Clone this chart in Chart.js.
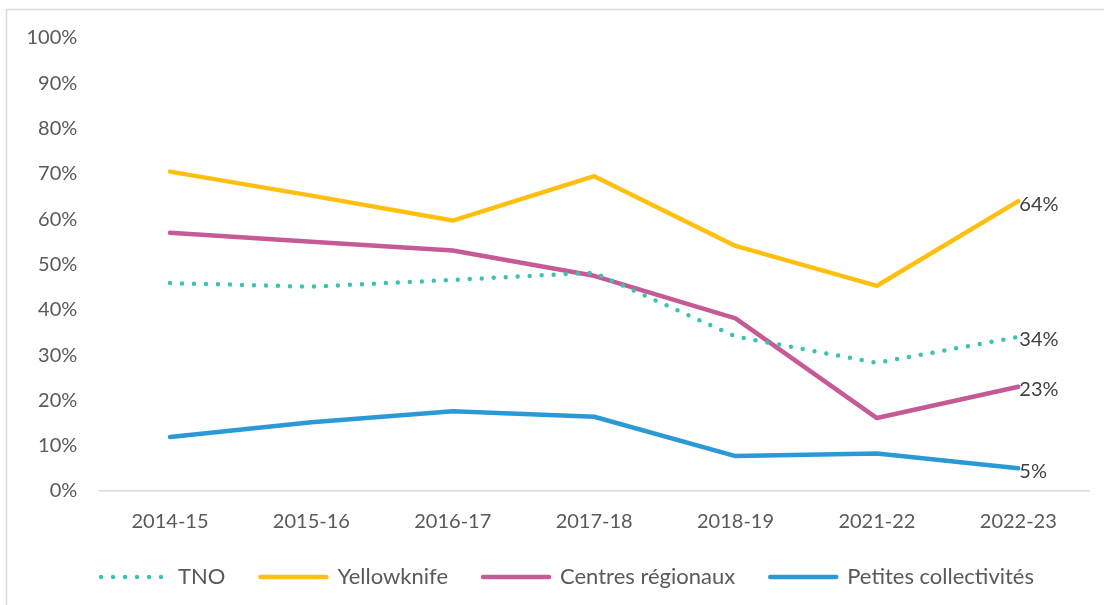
<!DOCTYPE html>
<html>
<head>
<meta charset="utf-8">
<script src="https://cdn.jsdelivr.net/npm/chart.js@4.4.0/dist/chart.umd.min.js"></script>
<style>
  html, body { margin: 0; padding: 0; background: #ffffff; }
  #wrap { position: relative; width: 1104px; height: 605px; }
</style>
</head>
<body>
<div id="wrap"><canvas id="c" width="1104" height="605"></canvas></div>
<script>
const categories = ['2014-15', '2015-16', '2016-17', '2017-18', '2018-19', '2021-22', '2022-23'];
const seriesNames = ['TNO', 'Yellowknife', 'Centres régionaux', 'Petites collectivités'];
const tno = [45.9, 45.1, 46.6, 48.2, 34.1, 28.3, 34];
const yellowknife = [70.5, 65.2, 59.7, 69.5, 54.1, 45.3, 64];
const centresRegionaux = [57.0, 55.0, 53.1, 47.5, 38.1, 16.1, 23];
const petitesCollectivites = [11.9, 15.2, 17.6, 16.4, 7.7, 8.3, 5];
const yTicks = [0, 10, 20, 30, 40, 50, 60, 70, 80, 90, 100];

const FONT = 'Lato, "Open Sans", sans-serif';
const TEXT = '#595959';

const frame = {
  id: 'frame',
  beforeDraw(chart) {
    const ctx = chart.ctx;
    ctx.save();
    ctx.fillStyle = '#ffffff';
    ctx.fillRect(0, 0, chart.width, chart.height);
    ctx.strokeStyle = '#d9d9d9';
    ctx.lineWidth = 1.5;
    ctx.beginPath();
    ctx.moveTo(6.5, chart.height);
    ctx.lineTo(6.5, 9.5);
    ctx.lineTo(chart.width, 9.5);
    ctx.stroke();
    ctx.restore();
  }
};

const legendShift = {
  id: 'legendShift',
  afterLayout(chart) {
    if (chart.legend) {
      chart.legend.left += 13;
      chart.legend.right += 13;
    }
  }
};

const lastLabels = {
  id: 'lastLabels',
  afterDatasetsDraw(chart) {
    const ctx = chart.ctx;
    ctx.save();
    ctx.font = '20px ' + FONT;
    ctx.fillStyle = '#404040';
    ctx.textAlign = 'left';
    ctx.textBaseline = 'middle';
    chart.data.datasets.forEach((ds, i) => {
      const meta = chart.getDatasetMeta(i);
      const n = ds.data.length - 1;
      const pt = meta.data[n];
      ctx.fillText(Math.round(ds.data[n]) + '%', pt.x + 1, pt.y + 3);
    });
    ctx.restore();
  }
};

new Chart(document.getElementById('c'), {
  type: 'line',
  data: {
    labels: categories,
    datasets: [
      { label: seriesNames[0], data: tno, borderColor: '#3fc1b1', backgroundColor: '#3fc1b1',
        borderWidth: 4.5, borderDash: [0, 12], borderCapStyle: 'round' },
      { label: seriesNames[1], data: yellowknife, borderColor: '#ffbf0f', backgroundColor: '#ffbf0f',
        borderWidth: 4.5, borderCapStyle: 'round' },
      { label: seriesNames[2], data: centresRegionaux, borderColor: '#c65a96', backgroundColor: '#c65a96',
        borderWidth: 4.5, borderCapStyle: 'round' },
      { label: seriesNames[3], data: petitesCollectivites, borderColor: '#2a99d6', backgroundColor: '#2a99d6',
        borderWidth: 4.5, borderCapStyle: 'round' }
    ]
  },
  options: {
    responsive: false,
    animation: false,
    events: [],
    elements: { point: { radius: 0 }, line: { tension: 0, borderJoinStyle: 'round' } },
    layout: { padding: { left: 20, right: 15, top: 38, bottom: 7 } },
    scales: {
      x: {
        offset: true,
        grid: { display: false, drawTicks: false },
        border: { display: true, color: '#d9d9d9', width: 1.5 },
        ticks: { color: TEXT, font: { family: FONT, size: 20 }, padding: 19, maxRotation: 0 },
        afterFit(scale) { scale.height = 40; }
      },
      y: {
        min: 0, max: 100,
        grid: { display: false, drawTicks: false },
        border: { display: false },
        afterBuildTicks(scale) { scale.ticks = yTicks.map(v => ({ value: v })); },
        ticks: { color: TEXT, font: { family: FONT, size: 20 }, padding: 22,
                 callback: v => v + '%' },
        afterFit(scale) { scale.width = 79.3; }
      }
    },
    plugins: {
      tooltip: { enabled: false },
      legend: {
        position: 'bottom',
        labels: {
          usePointStyle: true,
          pointStyle: 'line',
          pointStyleWidth: 66,
          padding: 35,
          color: TEXT,
          font: { family: FONT, size: 22 },
          generateLabels(chart) {
            const items = Chart.defaults.plugins.legend.labels.generateLabels(chart);
            return items.map(item => {
              const ds = chart.data.datasets[item.datasetIndex];
              item.lineDash = ds.borderDash || [];
              item.lineCap = ds.borderCapStyle || 'butt';
              item.lineWidth = ds.borderWidth;
              item.strokeStyle = ds.borderColor;
              item.fillStyle = ds.borderColor;
              return item;
            });
          }
        }
      }
    }
  },
  plugins: [frame, legendShift, lastLabels]
});
</script>
</body>
</html>
